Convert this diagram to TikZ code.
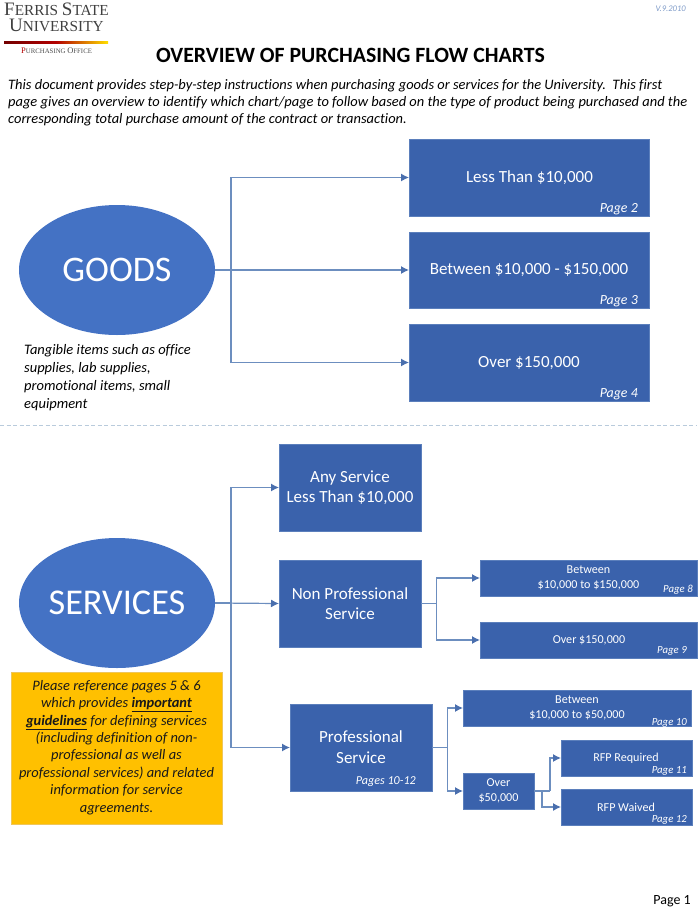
\documentclass[tikz,border=0pt]{standalone}
\usepackage{fontspec}
\setmainfont{Carlito}[Ligatures=NoCommon]
\newfontfamily\serifl{Liberation Serif}
\usetikzlibrary{arrows.meta,shapes.geometric}
\definecolor{boxblue}{HTML}{3A62AC}
\definecolor{ellblue}{HTML}{4472C4}
\definecolor{boxedge}{HTML}{5B7FBC}
\definecolor{linkblue}{HTML}{6C8EBF}
\definecolor{tipblue}{HTML}{4A6FAE}
\definecolor{note}{HTML}{FFC000}
\definecolor{noteedge}{HTML}{EFC65A}
\definecolor{sepcol}{HTML}{B9CBDC}
\definecolor{vercol}{HTML}{7F9BC8}
\newcommand{\fs}[1]{\fontsize{#1}{#1}\selectfont}
\newcommand{\fl}[2]{\fontsize{#1}{#2}\selectfont}
\tikzset{
  x=1pt,y=-1pt,
  flowbox/.style={draw=boxedge,line width=.5pt,fill=boxblue,text=white,inner sep=0pt,align=center},
  oval/.style={ellipse,fill=ellblue,text=white,inner sep=0pt},
  pagelabel/.style={text=white,font=\fs{13.9}\itshape,inner sep=0pt,anchor=base east},
  smallpage/.style={text=white,font=\fs{10.8}\itshape,inner sep=0pt,anchor=base east},
  link/.style={draw=linkblue,line width=1.2pt,-{Latex[length=8pt,width=8pt,color=tipblue]}},
  stub/.style={draw=linkblue,line width=1.2pt},
  plain/.style={inner sep=0pt,text=black}
}
\newcommand{\bx}[6]{\node[flowbox,font=#6,minimum width=#3pt-#1pt-.5pt,minimum height=#4pt-#2pt-.5pt] (#5) at ({(#1+#3)/2},{(#2+#4)/2}) }
\begin{document}
\begin{tikzpicture}
\useasboundingbox (0,0) rectangle (700,916);
% logo
\node[plain,anchor=base west,text=black!75,font=\serifl] (lg1) at (4,15) {\fs{19}F\fs{15.3}ERRIS \fs{19}S\fs{15.3}TATE};
\node[plain,anchor=base west,text=black!75,font=\serifl] (lg2) at (9,31) {\fs{19}U\fs{15.3}NIVERSITY};
\shade[left color=red!45!black,right color=yellow!75!orange,middle color=red!70!black,shading angle=90] (4,41.5) rectangle (108,43.5);
\node[plain,anchor=base west,text=black!70,font=\serifl] (lg3) at (21,53.5) {\textcolor{red!70!black}{\fs{8.5}P}\fs{6.8}URCHASING \fs{8.5}O\fs{6.8}FFICE};
\node[plain,anchor=base east,text=vercol,font=\fs{8.6}\itshape] (ver) at (686,11) {V.9.2010};
% title and intro
\node[plain,anchor=base,font=\fs{21.8}\bfseries] (title) at (350.5,62) {OVERVIEW OF PURCHASING FLOW CHARTS};
\node[plain,anchor=base west,font=\fs{14.45}\itshape] (in1) at (8,89) {This document provides step-by-step instructions when purchasing goods or services for the University.\ \ This first};
\node[plain,anchor=base west,font=\fs{14.45}\itshape] (in2) at (8,106) {page gives an overview to identify which chart/page to follow based on the type of product being purchased and the};
\node[plain,anchor=base west,font=\fs{14.45}\itshape] (in3) at (8,123) {corresponding total purchase amount of the contract or transaction.};
% goods
\node[oval,minimum width=196pt,minimum height=130pt,font=\fs{36}] (goods) at (117,270) {GOODS};
\bx{409}{139}{649}{216}{g1}{\fs{17}}{};
\bx{409}{232}{649}{308}{g2}{\fs{17}}{};
\bx{409}{324}{649}{401}{g3}{\fs{17}}{};
\node[text=white,font=\fs{17},inner sep=0pt] (g1t) at (529.5,178) {Less Than \$10,000};
\node[text=white,font=\fs{17},inner sep=0pt] (g2t) at (529,270.5) {Between \$10,000 - \$150,000};
\node[text=white,font=\fs{17},inner sep=0pt] (g3t) at (529,363) {Over \$150,000};
\node[pagelabel] (g1p) at (638,212) {Page 2};
\node[pagelabel] (g2p) at (638,304.5) {Page 3};
\node[pagelabel] (g3p) at (638,397) {Page 4};
\coordinate (jg) at (231,270);
\draw[link] (goods.east) -- (jg) |- (g1.west);
\draw[link] (goods.east) -- (g2.west);
\draw[link] (jg) |- (g3.west);
\node[plain,anchor=north west,align=left,font=\fl{14.5}{17.8}\itshape] (gnote) at (24,344.5) {Tangible items such as office\\supplies, lab supplies,\\promotional items, small\\equipment};
% separator
\coordinate (s1) at (0,425); \coordinate (s2) at (696,425);
\draw[sepcol,line width=.9pt,dash pattern=on 4pt off 2.5pt] (s1) -- (s2);
% services
\node[oval,minimum width=196pt,minimum height=130pt,font=\fs{36.3}] (serv) at (117,603) {SERVICES};
\bx{279}{444}{421}{531}{s1b}{\fl{17}{20.5}}{Any Service\\Less Than \$10,000};
\bx{279}{560}{421}{647}{s2b}{\fl{17}{20.5}}{Non Professional\\Service};
\bx{290}{704}{432}{791}{s3b}{\fs{17}}{};
\node[text=white,font=\fl{17}{20.5},inner sep=0pt,align=center] (s3t) at (361,747) {Professional\\Service};
\node[pagelabel,font=\fs{12.1}\itshape] (s3p) at (416,784) {Pages 10-12};
\coordinate (js) at (231,603);
\draw[link] (serv.east) -- (js) |- (s1b.west);
\draw[link] (serv.east) -- (s2b.west);
\draw[link] (js) |- (s3b.west);
% non professional branch
\bx{480}{560}{697}{596}{n1}{\fs{12}}{};
\bx{480}{622}{697}{658}{n2}{\fs{12}}{};
\node[text=white,font=\fl{12.1}{14.5},inner sep=0pt,align=center] (n1t) at (588.5,578) {Between\\\$10,000 to \$150,000};
\node[text=white,font=\fs{12.1},inner sep=0pt] (n2t) at (589,640) {Over \$150,000};
\node[smallpage] (n1p) at (693,592) {Page 8};
\node[smallpage] (n2p) at (687,653) {Page 9};
\coordinate (jn) at (436.5,603.5);
\draw[stub] (s2b.east) -- (jn);
\draw[link] (jn) |- (n1.west);
\draw[link] (jn) |- (n2.west);
% professional branch
\bx{463}{690}{691}{726}{p1}{\fs{12}}{};
\bx{463}{773}{534}{809}{p2}{\fl{12.1}{14.5}}{Over\\\$50,000};
\bx{561}{740}{692}{776}{p3}{\fs{12}}{};
\bx{561}{789}{692}{825}{p4}{\fs{12}}{};
\node[text=white,font=\fl{12.1}{14.5},inner sep=0pt,align=center] (p1t) at (577,708) {Between\\\$10,000 to \$50,000};
\node[text=white,font=\fs{12.1},inner sep=0pt] (p3t) at (626,758) {RFP Required};
\node[text=white,font=\fs{12.1},inner sep=0pt] (p4t) at (626,807) {RFP Waived};
\node[smallpage] (p1p) at (687,725) {Page 10};
\node[smallpage] (p3p) at (687,773) {Page 11};
\node[smallpage] (p4p) at (687,822) {Page 12};
\coordinate (jp) at (447.5,747.5);
\draw[stub] (s3b.east) -- (jp);
\draw[link] (jp) |- (p1.west);
\draw[link] (jp) |- (p2.west);
\coordinate (jo) at (550,791);
\coordinate (jq) at (542,791);
\draw[stub] (p2.east) -- (jo);
\draw[link] (jo) |- (p3.west);
\draw[link] (jq) |- (p4.west);
% note
\node[draw=noteedge,line width=.6pt,fill=note,minimum width=211pt,minimum height=152pt,inner sep=0pt] (nbox) at (116.5,748) {};
\node[plain,align=center,font=\fl{14.45}{17.35}\itshape,text=black!90] (ntxt) at (116.5,747.5) {Please reference pages 5 \& 6\\which provides \underline{\textbf{important}}\\\underline{\textbf{guidelines}} for defining services\\(including definition of non-\\professional as well as\\professional services) and related\\information for service\\agreements.};
\node[plain,anchor=base east,font=\fs{14}] (pg) at (691,904) {Page 1};
\end{tikzpicture}
\end{document}
